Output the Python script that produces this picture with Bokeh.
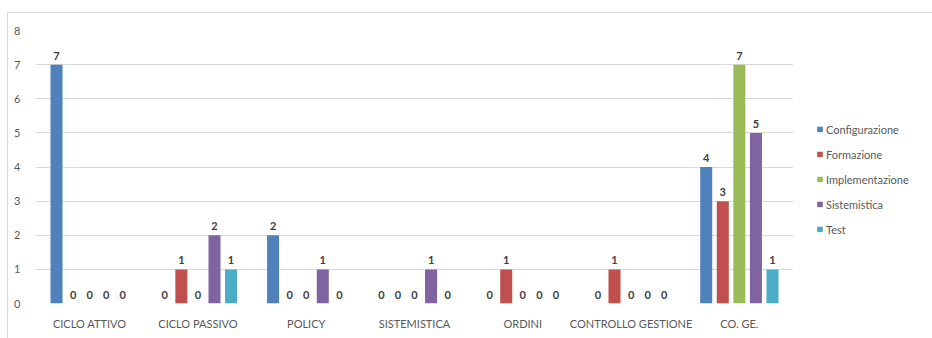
from bokeh.plotting import figure
from bokeh.models import ColumnDataSource, FactorRange, Legend, LegendItem
from bokeh.transform import dodge
from bokeh.core.properties import value
from bokeh.embed import file_html
from bokeh.resources import INLINE

categories = ["CICLO ATTIVO", "CICLO PASSIVO", "POLICY", "SISTEMISTICA",
              "ORDINI", "CONTROLLO GESTIONE", "CO. GE."]
series_names = ["Configurazione", "Formazione", "Implementazione", "Sistemistica", "Test"]
configurazione = [7, 0, 2, 0, 0, 0, 4]
formazione = [0, 1, 0, 0, 1, 1, 3]
implementazione = [0, 0, 0, 0, 0, 0, 7]
sistemistica = [0, 2, 1, 1, 0, 0, 5]
test = [0, 1, 0, 0, 0, 0, 1]
y_ticks = [0, 1, 2, 3, 4, 5, 6, 7, 8]

series_values = [configurazione, formazione, implementazione, sistemistica, test]
colors = ["#4F81BD", "#C0504D", "#9BBB59", "#8064A2", "#4BACC6"]
offsets = [-0.306, -0.153, 0.0, 0.153, 0.306]
FONT = "Lato"

p = figure(x_range=FactorRange(*categories), y_range=(0, 8),
           frame_width=758, frame_height=273, output_backend="svg", toolbar_location=None,
           min_border_left=27, min_border_right=10, min_border_top=17, min_border_bottom=35,
           styles={"margin-left": "7px", "margin-top": "12px",
                   "border-left": "1px solid #dadada", "border-top": "1px solid #dadada"})
p.outline_line_color = None
p.background_fill_color = "white"
p.border_fill_color = "white"

items = [LegendItem(label=" ", renderers=[])]  # blank spacer row to lower the legend
for name, vals, col, off in zip(series_names, series_values, colors, offsets):
    src = ColumnDataSource(dict(cat=categories, val=vals, lbl=[str(v) for v in vals]))
    r = p.vbar(x=dodge("cat", off, range=p.x_range), top="val", width=0.111,
               source=src, fill_color=col, line_color=None)
    p.text(x=dodge("cat", off, range=p.x_range), y="val", text="lbl", source=src,
           text_align="center", text_baseline="bottom", y_offset=-5,
           text_font=value(FONT), text_font_size="11px", text_font_style="bold",
           text_color="#404040")
    items.append(LegendItem(label=name, renderers=[r]))

legend = Legend(items=items, location="left", orientation="vertical",
                glyph_width=7, glyph_height=7, label_standoff=3,
                label_text_font=FONT, label_text_font_size="11px",
                label_text_color="#595959", label_height=20, spacing=5,
                padding=0, margin=23, border_line_color=None,
                background_fill_alpha=0)
p.add_layout(legend, "right")

p.yaxis.ticker = y_ticks
p.ygrid.grid_line_color = "#d9d9d9"
p.xgrid.grid_line_color = None
for ax in (p.xaxis[0], p.yaxis[0]):
    ax.axis_line_color = None
    ax.major_tick_line_color = None
    ax.minor_tick_line_color = None
    ax.major_tick_out = 0
    ax.major_label_text_font = FONT
    ax.major_label_text_font_size = "11px"
    ax.major_label_text_color = "#595959"
p.xaxis.major_label_standoff = 13
p.yaxis.major_label_standoff = 15

open("out.html", "w").write(file_html(p, INLINE))
